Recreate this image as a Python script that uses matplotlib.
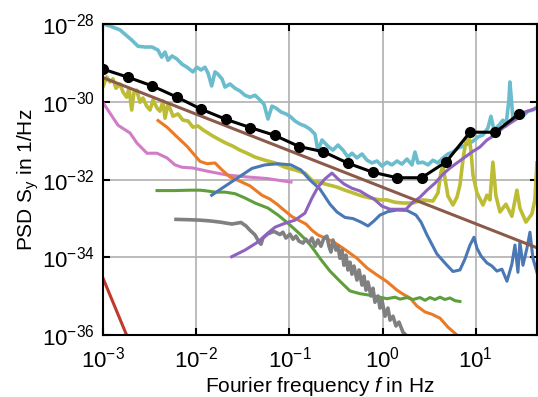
import numpy as np
import matplotlib
matplotlib.use("Agg")
import matplotlib.pyplot as plt

plt.rcParams['font.family'] = ['Liberation Sans', 'DejaVu Sans']
plt.rcParams['mathtext.fontset'] = 'custom'
plt.rcParams['mathtext.rm'] = 'Liberation Sans'
plt.rcParams['mathtext.it'] = 'Liberation Sans:italic'

# All values are log10(f / Hz) and log10(S_y * Hz)
cyan_logf = [-3.000, -2.928, -2.821, -2.695, -2.627, -2.552, -2.477, -2.412, -2.373, -2.337,
             -2.305, -2.262, -2.208, -2.155, -2.101, -2.037, -1.994, -1.951, -1.908, -1.875,
             -1.836, -1.800, -1.768, -1.725, -1.693, -1.639, -1.585, -1.532, -1.478, -1.424,
             -1.370, -1.317, -1.274, -1.231, -1.188, -1.145, -1.091, -1.038, -0.995, -0.941,
             -0.887, -0.834, -0.780, -0.726, -0.694, -0.651, -0.587, -0.533, -0.479, -0.425,
             -0.372, -0.329, -0.275, -0.221, -0.167, -0.114, -0.060, -0.006, 0.047, 0.101,
             0.155, 0.208, 0.262, 0.316, 0.348, 0.380, 0.434, 0.488, 0.541, 0.595,
             0.649, 0.702, 0.756, 0.810, 0.863, 0.917, 0.971, 1.025, 1.078, 1.132,
             1.164, 1.196, 1.250, 1.293, 1.325, 1.357, 1.368, 1.384, 1.400, 1.454,
             1.508, 1.561, 1.615, 1.669]
cyan_logpsd = [-28.00, -28.05, -28.15, -28.41, -28.57, -28.59, -28.59, -28.67, -28.85, -28.72,
               -28.93, -28.82, -28.90, -29.03, -29.11, -29.23, -29.11, -29.18, -29.11, -29.26,
               -29.59, -29.23, -29.29, -29.41, -29.62, -29.54, -29.65, -29.72, -29.83, -29.88,
               -29.83, -29.95, -30.06, -30.44, -30.11, -30.16, -30.26, -30.31, -30.37, -30.49,
               -30.57, -30.62, -30.70, -30.83, -31.26, -30.98, -31.14, -31.24, -31.11, -31.24,
               -31.42, -31.32, -31.44, -31.34, -31.50, -31.57, -31.52, -31.65, -31.55, -31.62,
               -31.52, -31.60, -31.47, -31.62, -31.29, -31.57, -31.55, -31.62, -31.50, -31.57,
               -31.44, -31.34, -31.29, -31.19, -31.14, -31.08, -31.01, -30.90, -30.85, -30.67,
               -30.37, -30.72, -30.60, -30.47, -30.62, -29.95, -29.49, -29.95, -30.44, -30.31,
               -30.37, -30.24, -30.21, -30.11]

olive_logf = [-3.000, -2.963, -2.928, -2.896, -2.864, -2.821, -2.788, -2.749, -2.724, -2.695,
              -2.670, -2.641, -2.606, -2.574, -2.534, -2.498, -2.466, -2.423, -2.391, -2.359,
              -2.337, -2.305, -2.284, -2.251, -2.198, -2.144, -2.090, -2.037, -1.983, -1.929,
              -1.875, -1.822, -1.747, -1.682, -1.607, -1.532, -1.456, -1.370, -1.263, -1.155,
              -1.048, -0.941, -0.834, -0.748, -0.619, -0.490, -0.404, -0.318, -0.221, -0.135,
              -0.028, 0.047, 0.133, 0.219, 0.327, 0.434, 0.541, 0.595, 0.627, 0.649,
              0.670, 0.702, 0.756, 0.799, 0.831, 0.863, 0.896, 0.923, 0.949, 0.971,
              1.014, 1.078, 1.121, 1.153, 1.185, 1.218, 1.261, 1.325, 1.389, 1.443,
              1.475, 1.540, 1.604, 1.636, 1.658]
olive_logpsd = [-29.59, -29.36, -29.49, -29.41, -29.65, -29.54, -29.75, -29.88, -29.65, -30.21,
                -29.75, -29.70, -30.01, -29.90, -30.11, -30.21, -29.95, -30.16, -30.24, -29.98,
                -30.42, -30.06, -30.16, -30.37, -30.31, -30.47, -30.49, -30.65, -30.62, -30.72,
                -30.80, -30.88, -30.98, -31.06, -31.14, -31.24, -31.32, -31.42, -31.50, -31.57,
                -31.68, -31.75, -31.83, -32.04, -32.11, -32.19, -32.27, -32.34, -32.42, -32.47,
                -32.52, -32.52, -32.58, -32.60, -32.60, -32.52, -32.55, -32.34, -31.80, -31.65,
                -31.96, -32.42, -32.65, -32.45, -32.14, -31.50, -30.98, -30.83, -31.24, -31.88,
                -32.34, -32.65, -32.40, -32.52, -31.55, -32.42, -32.83, -32.63, -32.94, -32.27,
                -32.73, -33.09, -32.88, -32.52, -31.57]

pink_logf = [-3.000, -2.928, -2.842, -2.713, -2.638, -2.531, -2.423, -2.316, -2.230, -2.155,
             -2.037, -1.886, -1.671, -1.456, -1.242, -1.048, -0.984]
pink_logpsd = [-30.03, -30.29, -30.60, -30.80, -31.06, -31.32, -31.32, -31.44, -31.62, -31.68,
               -31.70, -31.78, -31.88, -31.93, -31.97, -32.04, -32.06]

orange_logf = [-2.412, -2.316, -2.208, -2.101, -2.037, -1.961, -1.886, -1.800, -1.725, -1.639,
               -1.532, -1.424, -1.295, -1.209, -1.134, -1.070, -0.973, -0.887, -0.823, -0.758,
               -0.694, -0.619, -0.533, -0.425, -0.350, -0.275, -0.167, -0.060, 0.047, 0.155,
               0.219, 0.294, 0.370, 0.456, 0.531, 0.617, 0.702, 0.788, 0.831]
orange_logpsd = [-30.48, -30.65, -30.90, -31.14, -31.32, -31.53, -31.59, -31.57, -31.75, -31.93,
                 -32.04, -32.16, -32.40, -32.50, -32.63, -32.76, -32.95, -33.06, -33.14, -33.30,
                 -33.42, -33.50, -33.59, -33.76, -33.89, -34.02, -34.27, -34.45, -34.62, -34.84,
                 -34.94, -35.04, -35.25, -35.40, -35.46, -35.56, -35.79, -35.97, -36.07]

green_logf = [-2.423, -2.230, -2.069, -1.961, -1.886, -1.800, -1.693, -1.585, -1.478, -1.370,
              -1.231, -1.123, -1.016, -0.909, -0.801, -0.726, -0.673, -0.565, -0.458, -0.350,
              -0.243, -0.135, -0.028, 0.047, 0.133, 0.187, 0.262, 0.327, 0.402, 0.456,
              0.509, 0.563, 0.617, 0.670, 0.724, 0.778, 0.831]
green_logpsd = [-32.28, -32.28, -32.27, -32.27, -32.29, -32.32, -32.32, -32.36, -32.47, -32.60,
                -32.73, -32.91, -33.12, -33.35, -33.60, -33.84, -34.02, -34.35, -34.61, -34.86,
                -34.93, -34.97, -35.02, -35.06, -35.02, -35.07, -35.03, -35.08, -35.03, -35.10,
                -35.03, -35.08, -35.02, -35.08, -35.04, -35.11, -35.13]

blue_logf = [-1.836, -1.725, -1.618, -1.510, -1.403, -1.263, -1.123, -0.984, -0.877, -0.780,
             -0.673, -0.565, -0.490, -0.404, -0.318, -0.232, -0.157, -0.092, -0.028, 0.058,
             0.155, 0.262, 0.359, 0.413, 0.477, 0.584, 0.692, 0.756, 0.831, 0.885,
             0.939, 0.982, 1.014, 1.057, 1.121, 1.175, 1.228, 1.282, 1.336, 1.389,
             1.422, 1.454, 1.475, 1.508, 1.551, 1.583, 1.615, 1.658]
blue_logpsd = [-32.40, -32.22, -32.05, -31.88, -31.71, -31.62, -31.59, -31.62, -31.75, -32.01,
               -32.24, -32.63, -32.83, -32.97, -33.00, -33.09, -33.19, -33.06, -32.91, -32.82,
               -32.78, -32.79, -32.91, -33.09, -33.42, -33.91, -34.20, -34.36, -34.32, -34.04,
               -33.68, -33.48, -33.76, -33.96, -34.14, -34.22, -34.35, -34.30, -34.61, -34.17,
               -33.68, -34.38, -33.60, -34.20, -33.76, -33.35, -34.02, -34.38]

purple_logf = [-1.621, -1.478, -1.338, -1.231, -1.155, -1.048, -0.941, -0.834, -0.758, -0.694,
               -0.619, -0.544, -0.479, -0.415, -0.329, -0.243, -0.167, -0.092, -0.006, 0.080,
               0.165, 0.251, 0.316, 0.402, 0.477, 0.563, 0.649, 0.724, 0.799, 0.885,
               0.960, 1.046, 1.121, 1.207, 1.293, 1.368, 1.454, 1.529, 1.594, 1.658]
purple_logpsd = [-33.98, -33.81, -33.60, -33.37, -33.22, -33.12, -33.04, -32.86, -32.47, -32.19,
                 -31.98, -31.83, -31.98, -32.11, -32.22, -32.29, -32.40, -32.50, -32.68, -32.76,
                 -32.76, -32.76, -32.60, -32.45, -32.27, -32.09, -31.86, -31.70, -31.57, -31.42,
                 -31.29, -31.16, -30.98, -30.85, -30.67, -30.55, -30.42, -30.26, -30.21, -30.16]

gray_logf = [-2.219, -2.069, -1.961, -1.854, -1.747, -1.618, -1.521, -1.467, -1.424, -1.370,
             -1.328, -1.306, -1.285, -1.231, -1.166, -1.102, -1.070, -1.038, -0.995, -0.962,
             -0.930, -0.898, -0.855, -0.823, -0.791, -0.758, -0.726, -0.694, -0.662, -0.630,
             -0.598, -0.576, -0.555, -0.533, -0.501, -0.479, -0.458, -0.436, -0.415, -0.393,
             -0.372, -0.350, -0.329, -0.307, -0.275, -0.253, -0.221, -0.200, -0.178, -0.157,
             -0.124, -0.103, -0.082, -0.049, -0.028, -0.006, 0.026, 0.058, 0.080, 0.112,
             0.144, 0.176, 0.219, 0.262]
gray_logpsd = [-33.02, -33.03, -33.04, -33.06, -33.09, -33.14, -33.10, -33.19, -33.30, -33.42,
               -33.60, -33.66, -33.50, -33.39, -33.33, -33.41, -33.35, -33.50, -33.40, -33.53,
               -33.45, -33.58, -33.63, -33.53, -33.63, -33.50, -33.71, -33.55, -33.71, -33.50,
               -33.45, -33.71, -33.86, -33.55, -33.81, -33.71, -34.02, -33.81, -34.20, -33.94,
               -34.32, -34.12, -34.43, -34.22, -34.58, -34.32, -34.71, -34.48, -34.84, -34.63,
               -34.99, -34.79, -35.15, -34.99, -35.30, -35.10, -35.51, -35.30, -35.61, -35.51,
               -35.76, -35.66, -35.92, -36.02]

red_logf = [-3.000, -2.700]
red_logpsd = [-34.55, -36.28]

brown_logf = [-3.000, 1.669]
brown_logpsd = [-29.38, -33.76]

# combined estimate with markers
black_logf = [-3.000, -2.731, -2.474, -2.208, -1.947, -1.682, -1.421, -1.159, -0.895, -0.637,
              -0.368, -0.103, 0.155, 0.420, 0.684, 0.939, 1.211, 1.469]
black_logpsd = [-29.16, -29.37, -29.59, -29.88, -30.19, -30.45, -30.66, -30.86, -31.15, -31.28,
                -31.58, -31.81, -31.95, -31.95, -31.54, -30.78, -30.78, -30.30]

series = [
    (cyan_logf, cyan_logpsd, '#6bbccd', 2.6),
    (olive_logf, olive_logpsd, '#bcbd35', 2.6),
    (pink_logf, pink_logpsd, '#d07cc6', 2.2),
    (orange_logf, orange_logpsd, '#ec7a25', 2.2),
    (green_logf, green_logpsd, '#5e9f3c', 2.2),
    (gray_logf, gray_logpsd, '#808080', 2.6),
    (blue_logf, blue_logpsd, '#4a78b5', 2.2),
    (purple_logf, purple_logpsd, '#8e63c0', 2.2),
    (red_logf, red_logpsd, '#c0392b', 2.2),
    (brown_logf, brown_logpsd, '#8b5a4b', 2.2),
]

fig = plt.figure(figsize=(5.38, 3.97), dpi=100)
ax = fig.add_axes([0.192, 0.1554, 0.806, 0.784])

for lf, lp, col, w in series:
    ax.plot(10.0**np.array(lf), 10.0**np.array(lp), color=col, lw=w)

ax.plot(10.0**np.array(black_logf), 10.0**np.array(black_logpsd), color='black', lw=2.2,
        marker='o', markersize=7)

ax.set_xscale('log')
ax.set_yscale('log')
ax.set_xlim(1e-3, 10**1.658)
ax.set_ylim(1e-36, 1e-28)
ax.set_xticks([1e-3, 1e-2, 1e-1, 1e0, 1e1])
ax.set_yticks([1e-36, 1e-34, 1e-32, 1e-30, 1e-28])
ax.minorticks_off()
ax.grid(True, color='#b0b0b0', lw=1.2)
ax.set_axisbelow(True)
ax.tick_params(direction='in', top=True, right=True, length=5, width=1.5, labelsize=16)
ax.tick_params(axis='x', pad=8)
ax.tick_params(axis='y', pad=6)
for s in ax.spines.values():
    s.set_linewidth(1.5)

ax.set_xlabel('Fourier frequency $f$ in Hz', fontsize=15, labelpad=2)
ax.set_ylabel(r'PSD S$_\mathrm{y}$ in 1/Hz', fontsize=15, labelpad=1)

fig.savefig('out.png', dpi=100)
